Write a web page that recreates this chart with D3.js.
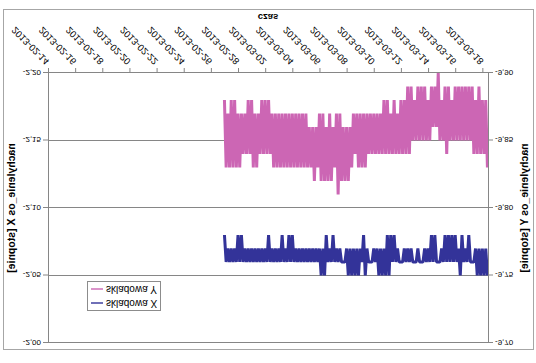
<!DOCTYPE html>
<html>
<head>
<meta charset="utf-8">
<script src="https://cdn.jsdelivr.net/npm/d3@7"></script>
<style>
  body { margin: 0; background: #fff; }
  svg { display: block; font-family: "Liberation Sans", Arial, sans-serif; }
</style>
</head>
<body>
<svg id="chart" width="536" height="363"></svg>
<script>
const tickDates = ["2013-02-14", "2013-02-16", "2013-02-18", "2013-02-20", "2013-02-22", "2013-02-24",
  "2013-02-26", "2013-02-28", "2013-03-02", "2013-03-04", "2013-03-06", "2013-03-08", "2013-03-10",
  "2013-03-12", "2013-03-14", "2013-03-16", "2013-03-18"];
const axisEnd = "2013-03-18 10:00";
const startTime = "2013-02-27 00:00";
const stepHours = 3;

const leftTicks = [-2.20, -2.15, -2.10, -2.05, -2.00];
const rightTicks = [-9.90, -9.85, -9.80, -9.75, -9.70];

// nachylenie X (left axis)
const skladowaX = [
  -2.08,-2.06,-2.07,-2.06,-2.07,-2.06,-2.07,-2.06,-2.08,-2.06,
  -2.08,-2.06,-2.07,-2.06,-2.07,-2.06,-2.07,-2.06,-2.07,-2.06,
  -2.07,-2.06,-2.07,-2.06,-2.07,-2.06,-2.08,-2.06,-2.07,-2.06,
  -2.07,-2.06,-2.07,-2.06,-2.08,-2.06,-2.07,-2.06,-2.08,-2.06,
  -2.08,-2.06,-2.07,-2.06,-2.07,-2.06,-2.07,-2.06,-2.07,-2.06,
  -2.07,-2.06,-2.07,-2.06,-2.07,-2.06,-2.07,-2.05,-2.07,-2.05,
  -2.08,-2.06,-2.07,-2.06,-2.08,-2.06,-2.07,-2.06,-2.07,-2.06,
  -2.06,-2.06,-2.07,-2.05,-2.07,-2.05,-2.07,-2.05,-2.07,-2.05,
  -2.07,-2.06,-2.08,-2.05,-2.07,-2.06,-2.06,-2.06,-2.07,-2.06,
  -2.07,-2.05,-2.07,-2.05,-2.07,-2.05,-2.08,-2.05,-2.08,-2.06,
  -2.08,-2.06,-2.07,-2.06,-2.06,-2.06,-2.07,-2.06,-2.07,-2.06,
  -2.07,-2.06,-2.06,-2.06,-2.07,-2.06,-2.06,-2.06,-2.07,-2.06,
  -2.07,-2.06,-2.08,-2.06,-2.08,-2.06,-2.06,-2.06,-2.07,-2.06,
  -2.08,-2.06,-2.08,-2.06,-2.08,-2.06,-2.08,-2.06,-2.07,-2.05,
  -2.08,-2.06,-2.07,-2.06,-2.08,-2.06,-2.06,-2.06,-2.07,-2.05,
  -2.07,-2.05,-2.07,-2.05,-2.07,-2.05
];

// nachylenie Y (right axis)
const skladowaY = [
  -9.88,-9.83,-9.87,-9.83,-9.88,-9.83,-9.88,-9.83,-9.87,-9.83,
  -9.87,-9.84,-9.87,-9.84,-9.88,-9.84,-9.88,-9.83,-9.87,-9.83,
  -9.87,-9.84,-9.88,-9.84,-9.88,-9.84,-9.88,-9.84,-9.87,-9.83,
  -9.87,-9.83,-9.87,-9.83,-9.87,-9.83,-9.87,-9.83,-9.87,-9.83,
  -9.87,-9.83,-9.87,-9.83,-9.87,-9.83,-9.87,-9.83,-9.87,-9.83,
  -9.86,-9.83,-9.86,-9.82,-9.86,-9.83,-9.87,-9.82,-9.87,-9.82,
  -9.86,-9.82,-9.87,-9.82,-9.86,-9.83,-9.87,-9.81,-9.87,-9.82,
  -9.86,-9.82,-9.86,-9.82,-9.86,-9.83,-9.87,-9.84,-9.87,-9.83,
  -9.87,-9.83,-9.87,-9.83,-9.87,-9.84,-9.87,-9.84,-9.87,-9.84,
  -9.87,-9.84,-9.87,-9.84,-9.88,-9.84,-9.88,-9.84,-9.87,-9.84,
  -9.88,-9.84,-9.87,-9.84,-9.88,-9.84,-9.88,-9.84,-9.89,-9.84,
  -9.89,-9.85,-9.88,-9.85,-9.89,-9.85,-9.89,-9.85,-9.89,-9.85,
  -9.88,-9.85,-9.89,-9.86,-9.89,-9.86,-9.90,-9.85,-9.88,-9.85,
  -9.89,-9.84,-9.89,-9.85,-9.88,-9.85,-9.89,-9.85,-9.89,-9.85,
  -9.89,-9.85,-9.89,-9.85,-9.89,-9.85,-9.89,-9.84,-9.88,-9.84,
  -9.89,-9.84,-9.88,-9.84,-9.88,-9.83
];

const seriesNames = ["skladowa X", "skladowa Y"];
const colorX = "#333399";
const colorY = "#cc66b4";
const gridColor = "#868686";

const width = 536, height = 363;
const plot = { left: 48, right: 488, top: 20, bottom: 290 };

const parseDay = d3.utcParse("%Y-%m-%d");
const parseTime = d3.utcParse("%Y-%m-%d %H:%M");
const fmtNum = d => d.toFixed(2).replace(".", ",");

const t0 = parseTime(startTime);
const times = skladowaX.map((_, i) => d3.utcHour.offset(t0, i * stepHours));

const x = d3.scaleUtc()
  .domain([parseDay(tickDates[0]), parseTime(axisEnd)])
  .range([plot.left, plot.right]);
const yLeft = d3.scaleLinear().domain([-2.20, -2.00]).range([plot.bottom, plot.top]);
const yRight = d3.scaleLinear().domain([-9.90, -9.70]).range([plot.bottom, plot.top]);

const svg = d3.select("#chart");
svg.append("rect").attr("width", width).attr("height", height).attr("fill", "#fff");

// the picture is mirrored top to bottom
const root = svg.append("g").attr("transform", `translate(0,${height}) scale(1,-1)`);

root.append("rect")
  .attr("x", 3.5).attr("y", 13.5)
  .attr("width", 530).attr("height", 340)
  .attr("fill", "none").attr("stroke", "#a6a6a6");

const grid = root.append("g").attr("id", "grid");
grid.selectAll("line")
  .data(leftTicks.slice(1))
  .join("line")
  .attr("x1", plot.left).attr("x2", plot.right)
  .attr("y1", d => Math.round(yLeft(d)) + 0.5).attr("y2", d => Math.round(yLeft(d)) + 0.5)
  .attr("stroke", gridColor);

const lineX = d3.line().x((d, i) => x(times[i])).y(d => yLeft(d));
const lineY = d3.line().x((d, i) => x(times[i])).y(d => yRight(d));

const series = root.append("g").attr("id", "series")
  .attr("fill", "none").attr("stroke-width", 3).attr("stroke-linejoin", "bevel");
series.append("path")
  .attr("d", lineY(skladowaY))
  .attr("stroke", colorY);
series.append("path")
  .attr("d", lineX(skladowaX))
  .attr("stroke", colorX);

const xAxis = root.append("g")
  .attr("id", "xAxis")
  .attr("transform", `translate(0,${plot.bottom})`)
  .call(d3.axisBottom(x)
    .tickValues(tickDates.map(parseDay))
    .tickFormat(d3.utcFormat("%Y-%m-%d"))
    .tickSize(5).tickSizeOuter(0));
xAxis.selectAll("text")
  .attr("x", 0).attr("y", 0).attr("dy", "0.35em")
  .attr("text-anchor", "end")
  .attr("transform", "translate(-1,10) rotate(-45)");

const leftAxis = root.append("g")
  .attr("id", "leftAxis")
  .attr("transform", `translate(${plot.left},0)`)
  .call(d3.axisLeft(yLeft).tickValues(leftTicks).tickFormat(fmtNum).tickSize(5).tickSizeOuter(0));

const rightAxis = root.append("g")
  .attr("id", "rightAxis")
  .attr("transform", `translate(${plot.right},0)`)
  .call(d3.axisRight(yRight).tickValues(rightTicks).tickFormat(fmtNum).tickSize(5).tickSizeOuter(0));

[xAxis, leftAxis, rightAxis].forEach(a => {
  a.attr("font-family", null).attr("font-size", null);
  a.select(".domain").attr("stroke", gridColor);
  a.selectAll(".tick line").attr("stroke", gridColor);
  a.selectAll("text").attr("fill", "#000");
});
xAxis.selectAll("text").attr("font-size", 9.5);
leftAxis.selectAll("text").attr("font-size", 8).attr("x", -7);
rightAxis.selectAll("text").attr("font-size", 8).attr("x", 7);

const titles = root.append("g").attr("id", "titles").attr("font-weight", "bold").attr("fill", "#000");
titles.append("text")
  .attr("transform", `translate(11,${(plot.top + plot.bottom) / 2}) rotate(-90)`)
  .attr("text-anchor", "middle").attr("dy", "0.35em").attr("font-size", 10.5)
  .text("nachylenie_os X [stopnie]");
titles.append("text")
  .attr("transform", `translate(524,${(plot.top + plot.bottom) / 2}) rotate(-90)`)
  .attr("text-anchor", "middle").attr("dy", "0.35em").attr("font-size", 10.5)
  .text("nachylenie_os Y [stopnie]");
titles.append("text")
  .attr("x", (plot.left + plot.right) / 2).attr("y", 346)
  .attr("text-anchor", "middle").attr("dy", "0.35em").attr("font-size", 9.5)
  .text("czas");

const legend = root.append("g").attr("id", "legend").attr("transform", "translate(87,52)");
legend.append("rect")
  .attr("x", 0.5).attr("y", 0.5).attr("width", 73).attr("height", 29)
  .attr("fill", "#fff").attr("stroke", "#8c8c8c");
const legendRows = legend.selectAll("g.row")
  .data(seriesNames)
  .join("g")
  .attr("class", "row")
  .attr("transform", (d, i) => `translate(0,${8 + i * 14})`);
legendRows.append("line")
  .attr("x1", 4).attr("x2", 16)
  .attr("stroke", (d, i) => i === 0 ? colorX : colorY).attr("stroke-width", 1.4);
legendRows.append("text")
  .attr("x", 19).attr("dy", "0.35em").attr("font-size", 10)
  .text(d => d);
</script>
</body>
</html>
